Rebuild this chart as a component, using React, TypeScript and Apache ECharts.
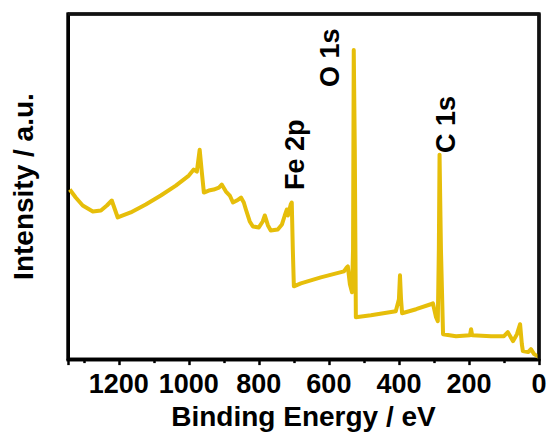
import { useEffect, useRef } from "react";
import * as echarts from "echarts";

// Binding energy (eV) and intensity (a.u.)
const bindingEnergy = [
  1340, 1323, 1303, 1274, 1251, 1234, 1220, 1211, 1203, 1166, 1123, 1080, 1037, 1000,
  986, 977, 969, 963, 957, 943, 929, 914, 906, 894, 883, 874, 863, 851, 843, 837, 826,
  817, 800, 789, 783, 774, 766, 746, 734, 726, 720, 717, 714, 709, 706, 703, 700, 680,
  623, 557, 549, 546, 540, 534, 531, 529, 526, 523, 480, 409, 400, 397, 394, 391, 351,
  309, 303, 294, 289, 286, 284, 280, 274, 237, 197, 194, 191, 137, 100, 89, 74, 63, 54,
  49, 46, 31, 23, 14, 0,
];
const intensity = [
  170, 162, 154, 148, 149, 154, 159, 150, 142, 147, 155, 164, 174, 184,
  190, 188, 210, 188, 167, 169, 170, 172, 175, 168, 164, 157, 159, 162, 157, 150, 138,
  133, 132, 138, 144, 134, 129, 130, 135, 144, 150, 144, 148, 155, 157, 110, 73, 76,
  82, 88, 92, 93, 75, 67, 110, 310, 210, 42, 44, 48, 60, 84, 60, 46, 50,
  55, 56, 42, 38, 110, 205, 110, 25, 23, 24, 30, 24, 23, 23, 27, 18, 25, 35,
  15, 8, 7, 10, 5, 2,
];

const xMajorTicks = [0, 200, 400, 600, 800, 1000, 1200];
const xMin = 0;
const xMax = 1345;
const yMin = 0;
const yMax = 346;
// top and right edges of the plot frame, in data units (axis extents)
const frameEnergies = [xMax, xMin, xMin];
const frameIntensities = [yMax, yMax, yMin];

const peakLabels = ["Fe 2p", "O 1s", "C 1s"];
const peakEnergies = [706, 529, 284];
const peakHeights = [157, 310, 205];

const FONT = "'Liberation Sans', Arial, Helvetica, sans-serif";
const LINE_COLOR = "#E6BE0A";
const FRAME_COLOR = "#111111";

const W = 550;
const H = 435;
const GRID = { left: 68, right: 11, top: 14, bottom: 75 };

export default function App() {
  const ref = useRef<HTMLDivElement>(null);

  useEffect(() => {
    document.body.style.margin = "0";
    const chart = echarts.init(ref.current!, null, { renderer: "svg" });
    const points = bindingEnergy.map((e, i) => [e, intensity[i]]);
    const framePoints = frameEnergies.map((e, i) => [e, frameIntensities[i]]);

    const gw = W - GRID.left - GRID.right;
    const gh = H - GRID.top - GRID.bottom;
    const toPx = (e: number, v: number) => [
      GRID.left + ((xMax - e) / (xMax - xMin)) * gw,
      GRID.top + ((yMax - v) / (yMax - yMin)) * gh,
    ];

    const offsets = [
      [3, -13],
      [-24, 37],
      [6, -2],
    ];
    const graphics: any[] = peakLabels.map((label, i) => {
      const [px, py] = toPx(peakEnergies[i], peakHeights[i]);
      return {
        type: "text",
        x: px + offsets[i][0],
        y: py + offsets[i][1],
        rotation: Math.PI / 2,
        style: {
          text: label,
          fontFamily: FONT,
          fontWeight: "bold",
          fontSize: 27,
          fill: "#000",
          align: "left",
          verticalAlign: "middle",
        },
      };
    });
    const [lx, ty] = toPx(xMax, yMax);
    const [rx, by] = toPx(xMin, yMin);
    graphics.push({
      type: "rect",
      shape: { x: lx, y: ty, width: rx - lx, height: by - ty },
      style: { stroke: FRAME_COLOR, lineWidth: 3, fill: "rgba(0,0,0,0)" },
      silent: true,
    });

    chart.setOption({
      animation: false,
      grid: {
        ...GRID,
        show: true,
        borderColor: FRAME_COLOR,
        borderWidth: 3,
      },
      xAxis: {
        type: "value",
        min: xMin,
        max: xMax,
        interval: 200,
        inverse: true,
        name: "Binding Energy / eV",
        nameLocation: "middle",
        nameGap: 41,
        nameTextStyle: { fontFamily: FONT, fontWeight: "bold", fontSize: 28, color: "#000" },
        axisLine: { show: true, onZero: false, lineStyle: { color: "#000", width: 3 } },
        axisTick: { show: true, inside: false, length: 6, lineStyle: { color: "#000", width: 2.5 } },
        minorTick: { show: true, splitNumber: 2, length: 4, lineStyle: { color: "#000", width: 2.5 } },
        axisLabel: {
          show: true,
          margin: 11,
          showMaxLabel: false,
          fontFamily: FONT,
          fontWeight: "bold",
          fontSize: 27,
          color: "#000",
          formatter: (v: number) => (xMajorTicks.includes(v) ? String(v) : ""),
        },
        splitLine: { show: false },
        minorSplitLine: { show: false },
      },
      yAxis: {
        type: "value",
        min: yMin,
        max: yMax,
        name: "Intensity / a.u.",
        nameLocation: "middle",
        nameGap: 31,
        nameTextStyle: { fontFamily: FONT, fontWeight: "bold", fontSize: 28, color: "#000" },
        axisLine: { show: true, onZero: false, lineStyle: { color: "#000", width: 3 } },
        axisTick: { show: false },
        axisLabel: { show: false },
        splitLine: { show: false },
      },
      series: [
        {
          type: "line",
          data: points,
          showSymbol: false,
          symbol: "none",
          lineStyle: { color: LINE_COLOR, width: 4, join: "round" },
        },
        {
          type: "line",
          data: framePoints,
          showSymbol: false,
          symbol: "none",
          clip: false,
          silent: true,
          z: 5,
          lineStyle: { color: FRAME_COLOR, width: 3 },
        },
      ],
      graphic: graphics,
    });

    return () => chart.dispose();
  }, []);

  return <div ref={ref} style={{ width: W, height: H }} />;
}
